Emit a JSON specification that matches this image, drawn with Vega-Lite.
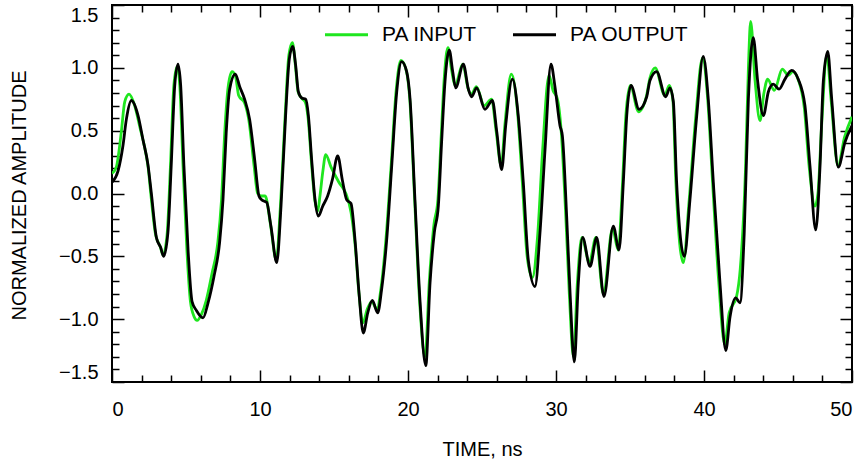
{
  "$schema": "https://vega.github.io/schema/vega-lite/v6.json",
  "width": 740,
  "height": 377,
  "autosize": {"type": "none"},
  "padding": {"left": 112, "top": 5, "right": 4, "bottom": 81},
  "config": {
    "font": "Liberation Sans",
    "view": {"stroke": "black", "strokeWidth": 2},
    "axis": {"grid": false, "domain": false, "labelFontSize": 20, "titleFontSize": 20, "titleFontWeight": "normal", "labelColor": "black", "titleColor": "black", "tickColor": "black", "tickWidth": 1.5, "labelFont": "Liberation Sans", "titleFont": "Liberation Sans"}
  },
  "datasets": {
    "sig": [
      {"series":"PA INPUT","t":0.00,"v":0.16},{"series":"PA INPUT","t":0.29,"v":0.21},{"series":"PA INPUT","t":0.63,"v":0.49},{"series":"PA INPUT","t":0.86,"v":0.73},{"series":"PA INPUT","t":1.15,"v":0.79},{"series":"PA INPUT","t":1.53,"v":0.70},{"series":"PA INPUT","t":1.90,"v":0.52},{"series":"PA INPUT","t":2.20,"v":0.37},{"series":"PA INPUT","t":2.45,"v":0.20},{"series":"PA INPUT","t":2.62,"v":0.00},{"series":"PA INPUT","t":2.95,"v":-0.33},{"series":"PA INPUT","t":3.25,"v":-0.42},{"series":"PA INPUT","t":3.45,"v":-0.49},{"series":"PA INPUT","t":3.72,"v":-0.33},{"series":"PA INPUT","t":3.95,"v":0.22},{"series":"PA INPUT","t":4.18,"v":0.86},{"series":"PA INPUT","t":4.40,"v":1.01},{"series":"PA INPUT","t":4.58,"v":0.86},{"series":"PA INPUT","t":4.80,"v":0.22},{"series":"PA INPUT","t":5.06,"v":-0.45},{"series":"PA INPUT","t":5.30,"v":-0.86},{"series":"PA INPUT","t":5.55,"v":-0.98},{"series":"PA INPUT","t":5.75,"v":-1.01},{"series":"PA INPUT","t":6.05,"v":-0.96},{"series":"PA INPUT","t":6.37,"v":-0.85},{"series":"PA INPUT","t":6.75,"v":-0.64},{"series":"PA INPUT","t":7.15,"v":-0.39},{"series":"PA INPUT","t":7.40,"v":-0.05},{"series":"PA INPUT","t":7.62,"v":0.49},{"series":"PA INPUT","t":7.85,"v":0.85},{"series":"PA INPUT","t":8.11,"v":0.97},{"series":"PA INPUT","t":8.35,"v":0.93},{"series":"PA INPUT","t":8.56,"v":0.78},{"series":"PA INPUT","t":8.96,"v":0.72},{"series":"PA INPUT","t":9.25,"v":0.58},{"series":"PA INPUT","t":9.60,"v":0.22},{"series":"PA INPUT","t":9.84,"v":0.00},{"series":"PA INPUT","t":10.10,"v":-0.02},{"series":"PA INPUT","t":10.35,"v":-0.02},{"series":"PA INPUT","t":10.70,"v":-0.24},{"series":"PA INPUT","t":11.10,"v":-0.53},{"series":"PA INPUT","t":11.38,"v":-0.10},{"series":"PA INPUT","t":11.70,"v":0.62},{"series":"PA INPUT","t":11.95,"v":1.10},{"series":"PA INPUT","t":12.19,"v":1.20},{"series":"PA INPUT","t":12.39,"v":1.02},{"series":"PA INPUT","t":12.57,"v":0.81},{"series":"PA INPUT","t":12.80,"v":0.76},{"series":"PA INPUT","t":13.05,"v":0.73},{"series":"PA INPUT","t":13.25,"v":0.60},{"series":"PA INPUT","t":13.47,"v":0.26},{"series":"PA INPUT","t":13.70,"v":-0.05},{"series":"PA INPUT","t":13.90,"v":-0.14},{"series":"PA INPUT","t":14.05,"v":-0.02},{"series":"PA INPUT","t":14.25,"v":0.18},{"series":"PA INPUT","t":14.44,"v":0.31},{"series":"PA INPUT","t":14.80,"v":0.21},{"series":"PA INPUT","t":15.33,"v":0.09},{"series":"PA INPUT","t":15.80,"v":0.00},{"series":"PA INPUT","t":16.15,"v":-0.15},{"series":"PA INPUT","t":16.42,"v":-0.40},{"series":"PA INPUT","t":16.69,"v":-0.80},{"series":"PA INPUT","t":16.95,"v":-1.03},{"series":"PA INPUT","t":17.25,"v":-0.92},{"series":"PA INPUT","t":17.55,"v":-0.86},{"series":"PA INPUT","t":17.90,"v":-0.92},{"series":"PA INPUT","t":18.18,"v":-0.75},{"series":"PA INPUT","t":18.52,"v":-0.35},{"series":"PA INPUT","t":18.86,"v":0.22},{"series":"PA INPUT","t":19.20,"v":0.82},{"series":"PA INPUT","t":19.52,"v":1.06},{"series":"PA INPUT","t":19.88,"v":0.98},{"series":"PA INPUT","t":20.12,"v":0.75},{"series":"PA INPUT","t":20.45,"v":-0.05},{"series":"PA INPUT","t":20.78,"v":-0.85},{"series":"PA INPUT","t":21.15,"v":-1.30},{"series":"PA INPUT","t":21.45,"v":-0.68},{"series":"PA INPUT","t":21.75,"v":-0.25},{"series":"PA INPUT","t":22.02,"v":-0.05},{"series":"PA INPUT","t":22.25,"v":0.47},{"series":"PA INPUT","t":22.45,"v":0.92},{"series":"PA INPUT","t":22.70,"v":1.16},{"series":"PA INPUT","t":22.95,"v":0.98},{"series":"PA INPUT","t":23.18,"v":0.86},{"series":"PA INPUT","t":23.70,"v":1.03},{"series":"PA INPUT","t":24.05,"v":0.84},{"series":"PA INPUT","t":24.28,"v":0.79},{"series":"PA INPUT","t":24.62,"v":0.85},{"series":"PA INPUT","t":25.15,"v":0.70},{"series":"PA INPUT","t":25.65,"v":0.75},{"series":"PA INPUT","t":25.95,"v":0.50},{"series":"PA INPUT","t":26.30,"v":0.22},{"series":"PA INPUT","t":26.55,"v":0.55},{"series":"PA INPUT","t":26.98,"v":0.95},{"series":"PA INPUT","t":27.40,"v":0.65},{"series":"PA INPUT","t":27.72,"v":0.10},{"series":"PA INPUT","t":28.05,"v":-0.50},{"series":"PA INPUT","t":28.40,"v":-0.67},{"series":"PA INPUT","t":28.75,"v":-0.35},{"series":"PA INPUT","t":29.10,"v":0.35},{"series":"PA INPUT","t":29.53,"v":0.94},{"series":"PA INPUT","t":29.80,"v":0.82},{"series":"PA INPUT","t":30.10,"v":0.75},{"series":"PA INPUT","t":30.35,"v":0.50},{"series":"PA INPUT","t":30.65,"v":-0.15},{"series":"PA INPUT","t":30.90,"v":-0.80},{"series":"PA INPUT","t":31.18,"v":-1.30},{"series":"PA INPUT","t":31.45,"v":-0.70},{"series":"PA INPUT","t":31.75,"v":-0.35},{"series":"PA INPUT","t":32.25,"v":-0.55},{"series":"PA INPUT","t":32.70,"v":-0.35},{"series":"PA INPUT","t":33.20,"v":-0.80},{"series":"PA INPUT","t":33.82,"v":-0.28},{"series":"PA INPUT","t":34.20,"v":-0.45},{"series":"PA INPUT","t":34.50,"v":0.09},{"series":"PA INPUT","t":34.72,"v":0.62},{"series":"PA INPUT","t":35.02,"v":0.86},{"series":"PA INPUT","t":35.58,"v":0.65},{"series":"PA INPUT","t":36.10,"v":0.77},{"series":"PA INPUT","t":36.35,"v":0.92},{"series":"PA INPUT","t":36.70,"v":1.00},{"series":"PA INPUT","t":37.35,"v":0.78},{"series":"PA INPUT","t":37.65,"v":0.86},{"series":"PA INPUT","t":37.90,"v":0.74},{"series":"PA INPUT","t":38.10,"v":0.09},{"series":"PA INPUT","t":38.60,"v":-0.55},{"series":"PA INPUT","t":39.00,"v":-0.05},{"series":"PA INPUT","t":39.45,"v":0.62},{"series":"PA INPUT","t":39.90,"v":1.08},{"series":"PA INPUT","t":40.25,"v":0.75},{"series":"PA INPUT","t":40.58,"v":0.09},{"series":"PA INPUT","t":41.00,"v":-0.71},{"series":"PA INPUT","t":41.40,"v":-1.20},{"series":"PA INPUT","t":41.70,"v":-0.95},{"series":"PA INPUT","t":42.20,"v":-0.82},{"series":"PA INPUT","t":42.45,"v":-0.60},{"series":"PA INPUT","t":42.80,"v":0.18},{"series":"PA INPUT","t":43.00,"v":1.00},{"series":"PA INPUT","t":43.15,"v":1.37},{"series":"PA INPUT","t":43.45,"v":0.90},{"series":"PA INPUT","t":43.78,"v":0.58},{"series":"PA INPUT","t":44.05,"v":0.80},{"series":"PA INPUT","t":44.30,"v":0.91},{"series":"PA INPUT","t":44.75,"v":0.82},{"series":"PA INPUT","t":45.29,"v":0.99},{"series":"PA INPUT","t":45.70,"v":0.94},{"series":"PA INPUT","t":46.00,"v":0.97},{"series":"PA INPUT","t":46.35,"v":0.91},{"series":"PA INPUT","t":46.78,"v":0.68},{"series":"PA INPUT","t":47.10,"v":0.22},{"series":"PA INPUT","t":47.50,"v":-0.10},{"series":"PA INPUT","t":47.70,"v":0.00},{"series":"PA INPUT","t":47.95,"v":0.55},{"series":"PA INPUT","t":48.30,"v":1.10},{"series":"PA INPUT","t":48.60,"v":0.73},{"series":"PA INPUT","t":49.05,"v":0.22},{"series":"PA INPUT","t":49.50,"v":0.45},{"series":"PA INPUT","t":50.00,"v":0.61},
      {"series":"PA OUTPUT","t":0.00,"v":0.09},{"series":"PA OUTPUT","t":0.41,"v":0.18},{"series":"PA OUTPUT","t":0.74,"v":0.38},{"series":"PA OUTPUT","t":0.97,"v":0.59},{"series":"PA OUTPUT","t":1.31,"v":0.74},{"series":"PA OUTPUT","t":1.76,"v":0.62},{"series":"PA OUTPUT","t":2.09,"v":0.43},{"series":"PA OUTPUT","t":2.43,"v":0.23},{"series":"PA OUTPUT","t":2.66,"v":0.00},{"series":"PA OUTPUT","t":3.00,"v":-0.35},{"series":"PA OUTPUT","t":3.29,"v":-0.43},{"series":"PA OUTPUT","t":3.49,"v":-0.50},{"series":"PA OUTPUT","t":3.78,"v":-0.31},{"series":"PA OUTPUT","t":4.00,"v":0.22},{"series":"PA OUTPUT","t":4.24,"v":0.86},{"series":"PA OUTPUT","t":4.46,"v":1.03},{"series":"PA OUTPUT","t":4.64,"v":0.86},{"series":"PA OUTPUT","t":4.86,"v":0.22},{"series":"PA OUTPUT","t":5.14,"v":-0.45},{"series":"PA OUTPUT","t":5.41,"v":-0.86},{"series":"PA OUTPUT","t":5.70,"v":-0.93},{"series":"PA OUTPUT","t":6.15,"v":-0.99},{"series":"PA OUTPUT","t":6.49,"v":-0.87},{"series":"PA OUTPUT","t":6.89,"v":-0.66},{"series":"PA OUTPUT","t":7.27,"v":-0.39},{"series":"PA OUTPUT","t":7.50,"v":-0.05},{"series":"PA OUTPUT","t":7.72,"v":0.49},{"series":"PA OUTPUT","t":7.95,"v":0.83},{"series":"PA OUTPUT","t":8.33,"v":0.95},{"series":"PA OUTPUT","t":8.63,"v":0.85},{"series":"PA OUTPUT","t":8.96,"v":0.75},{"series":"PA OUTPUT","t":9.30,"v":0.59},{"series":"PA OUTPUT","t":9.64,"v":0.27},{"series":"PA OUTPUT","t":9.93,"v":-0.02},{"series":"PA OUTPUT","t":10.11,"v":-0.05},{"series":"PA OUTPUT","t":10.45,"v":-0.07},{"series":"PA OUTPUT","t":10.74,"v":-0.26},{"series":"PA OUTPUT","t":11.13,"v":-0.55},{"series":"PA OUTPUT","t":11.42,"v":-0.10},{"series":"PA OUTPUT","t":11.73,"v":0.62},{"series":"PA OUTPUT","t":11.98,"v":1.07},{"series":"PA OUTPUT","t":12.21,"v":1.17},{"series":"PA OUTPUT","t":12.41,"v":1.02},{"series":"PA OUTPUT","t":12.59,"v":0.81},{"series":"PA OUTPUT","t":12.82,"v":0.76},{"series":"PA OUTPUT","t":13.09,"v":0.75},{"series":"PA OUTPUT","t":13.27,"v":0.62},{"series":"PA OUTPUT","t":13.49,"v":0.27},{"series":"PA OUTPUT","t":13.72,"v":-0.05},{"series":"PA OUTPUT","t":13.94,"v":-0.18},{"series":"PA OUTPUT","t":14.24,"v":-0.10},{"series":"PA OUTPUT","t":14.57,"v":-0.02},{"series":"PA OUTPUT","t":14.89,"v":0.11},{"series":"PA OUTPUT","t":15.25,"v":0.30},{"series":"PA OUTPUT","t":15.56,"v":0.11},{"series":"PA OUTPUT","t":15.86,"v":-0.05},{"series":"PA OUTPUT","t":16.15,"v":-0.08},{"series":"PA OUTPUT","t":16.42,"v":-0.37},{"series":"PA OUTPUT","t":16.69,"v":-0.79},{"series":"PA OUTPUT","t":16.98,"v":-1.11},{"series":"PA OUTPUT","t":17.28,"v":-0.95},{"series":"PA OUTPUT","t":17.59,"v":-0.85},{"series":"PA OUTPUT","t":17.95,"v":-0.95},{"series":"PA OUTPUT","t":18.21,"v":-0.77},{"series":"PA OUTPUT","t":18.56,"v":-0.37},{"series":"PA OUTPUT","t":18.90,"v":0.22},{"series":"PA OUTPUT","t":19.24,"v":0.81},{"series":"PA OUTPUT","t":19.57,"v":1.05},{"series":"PA OUTPUT","t":19.91,"v":0.97},{"series":"PA OUTPUT","t":20.14,"v":0.75},{"series":"PA OUTPUT","t":20.47,"v":-0.05},{"series":"PA OUTPUT","t":20.81,"v":-0.85},{"series":"PA OUTPUT","t":21.20,"v":-1.37},{"series":"PA OUTPUT","t":21.49,"v":-0.71},{"series":"PA OUTPUT","t":21.78,"v":-0.31},{"series":"PA OUTPUT","t":22.05,"v":-0.10},{"series":"PA OUTPUT","t":22.28,"v":0.43},{"series":"PA OUTPUT","t":22.50,"v":0.89},{"series":"PA OUTPUT","t":22.79,"v":1.14},{"series":"PA OUTPUT","t":23.02,"v":0.97},{"series":"PA OUTPUT","t":23.22,"v":0.84},{"series":"PA OUTPUT","t":23.74,"v":1.03},{"series":"PA OUTPUT","t":24.08,"v":0.83},{"series":"PA OUTPUT","t":24.30,"v":0.77},{"series":"PA OUTPUT","t":24.64,"v":0.84},{"series":"PA OUTPUT","t":25.20,"v":0.67},{"series":"PA OUTPUT","t":25.70,"v":0.74},{"series":"PA OUTPUT","t":26.00,"v":0.49},{"series":"PA OUTPUT","t":26.33,"v":0.19},{"series":"PA OUTPUT","t":26.60,"v":0.54},{"series":"PA OUTPUT","t":27.05,"v":0.91},{"series":"PA OUTPUT","t":27.45,"v":0.62},{"series":"PA OUTPUT","t":27.79,"v":0.09},{"series":"PA OUTPUT","t":28.13,"v":-0.53},{"series":"PA OUTPUT","t":28.58,"v":-0.74},{"series":"PA OUTPUT","t":28.92,"v":-0.31},{"series":"PA OUTPUT","t":29.26,"v":0.35},{"series":"PA OUTPUT","t":29.66,"v":1.03},{"series":"PA OUTPUT","t":29.93,"v":0.85},{"series":"PA OUTPUT","t":30.27,"v":0.54},{"series":"PA OUTPUT","t":30.43,"v":0.46},{"series":"PA OUTPUT","t":30.72,"v":-0.18},{"series":"PA OUTPUT","t":30.95,"v":-0.79},{"series":"PA OUTPUT","t":31.24,"v":-1.34},{"series":"PA OUTPUT","t":31.51,"v":-0.71},{"series":"PA OUTPUT","t":31.80,"v":-0.35},{"series":"PA OUTPUT","t":32.30,"v":-0.58},{"series":"PA OUTPUT","t":32.75,"v":-0.35},{"series":"PA OUTPUT","t":33.24,"v":-0.82},{"series":"PA OUTPUT","t":33.87,"v":-0.26},{"series":"PA OUTPUT","t":34.26,"v":-0.45},{"series":"PA OUTPUT","t":34.55,"v":0.09},{"series":"PA OUTPUT","t":34.78,"v":0.62},{"series":"PA OUTPUT","t":35.07,"v":0.86},{"series":"PA OUTPUT","t":35.61,"v":0.67},{"series":"PA OUTPUT","t":36.13,"v":0.77},{"series":"PA OUTPUT","t":36.35,"v":0.90},{"series":"PA OUTPUT","t":36.80,"v":0.97},{"series":"PA OUTPUT","t":37.41,"v":0.77},{"series":"PA OUTPUT","t":37.70,"v":0.84},{"series":"PA OUTPUT","t":37.93,"v":0.73},{"series":"PA OUTPUT","t":38.15,"v":0.09},{"series":"PA OUTPUT","t":38.67,"v":-0.50},{"series":"PA OUTPUT","t":39.05,"v":-0.05},{"series":"PA OUTPUT","t":39.51,"v":0.62},{"series":"PA OUTPUT","t":39.95,"v":1.09},{"series":"PA OUTPUT","t":40.29,"v":0.75},{"series":"PA OUTPUT","t":40.63,"v":0.09},{"series":"PA OUTPUT","t":41.08,"v":-0.71},{"series":"PA OUTPUT","t":41.47,"v":-1.25},{"series":"PA OUTPUT","t":41.76,"v":-0.98},{"series":"PA OUTPUT","t":42.14,"v":-0.83},{"series":"PA OUTPUT","t":42.43,"v":-0.87},{"series":"PA OUTPUT","t":42.72,"v":-0.31},{"series":"PA OUTPUT","t":43.00,"v":0.75},{"series":"PA OUTPUT","t":43.33,"v":1.24},{"series":"PA OUTPUT","t":43.63,"v":0.89},{"series":"PA OUTPUT","t":44.01,"v":0.62},{"series":"PA OUTPUT","t":44.35,"v":0.81},{"series":"PA OUTPUT","t":44.68,"v":0.87},{"series":"PA OUTPUT","t":45.07,"v":0.83},{"series":"PA OUTPUT","t":45.47,"v":0.91},{"series":"PA OUTPUT","t":45.92,"v":0.98},{"series":"PA OUTPUT","t":46.37,"v":0.91},{"series":"PA OUTPUT","t":46.82,"v":0.70},{"series":"PA OUTPUT","t":47.16,"v":0.22},{"series":"PA OUTPUT","t":47.55,"v":-0.29},{"series":"PA OUTPUT","t":47.84,"v":0.22},{"series":"PA OUTPUT","t":48.06,"v":0.89},{"series":"PA OUTPUT","t":48.36,"v":1.13},{"series":"PA OUTPUT","t":48.63,"v":0.75},{"series":"PA OUTPUT","t":49.07,"v":0.21},{"series":"PA OUTPUT","t":49.53,"v":0.41},{"series":"PA OUTPUT","t":50.00,"v":0.54}
    ]
  },
  "data": {"name": "sig"},
  "layer": [
    {
      "mark": {"type": "line", "interpolate": "monotone", "strokeWidth": 2.8, "clip": true},
      "encoding": {
        "x": {"field": "t", "type": "quantitative", "scale": {"domain": [0, 50], "nice": false, "zero": false},
          "axis": {"orient": "bottom", "values": [0, 10, 20, 30, 40, 50], "tickSize": -12, "labelPadding": 29, "title": "TIME, ns", "titleY": 57, "titleBaseline": "top"}},
        "y": {"field": "v", "type": "quantitative", "scale": {"domain": [-1.5, 1.5], "nice": false, "zero": false},
          "axis": {"orient": "left", "values": [-1.5, -1, -0.5, 0, 0.5, 1, 1.5], "format": ".1f", "labelExpr": "replace(datum.label, '-', '\u2212')", "tickSize": -12, "labelPadding": 26, "labelFlush": true, "title": "NORMALIZED AMPLITUDE", "titleX": -83, "titleY": 190}},
        "color": {"field": "series", "type": "nominal",
          "scale": {"domain": ["PA INPUT", "PA OUTPUT"], "range": ["#1fe61f", "#000000"]},
          "legend": {"orient": "none", "legendX": 211, "legendY": 6, "direction": "horizontal", "title": null, "symbolType": "stroke", "symbolSize": 1850, "symbolStrokeWidth": 3, "labelFontSize": 21, "labelFont": "Liberation Sans", "labelColor": "black", "labelOffset": 12, "columnPadding": 28}}
      }
    },
    {
      "mark": {"type": "point", "opacity": 0},
      "encoding": {
        "x": {"field": "t", "type": "quantitative", "scale": {"domain": [0, 50], "nice": false, "zero": false},
          "axis": {"orient": "bottom", "values": [2,4,6,8,12,14,16,18,22,24,26,28,32,34,36,38,42,44,46,48], "tickSize": -7, "labels": false, "title": null}},
        "y": {"field": "v", "type": "quantitative", "scale": {"domain": [-1.5, 1.5], "nice": false, "zero": false},
          "axis": {"orient": "left", "values": [-1.4,-1.3,-1.2,-1.1,-0.9,-0.8,-0.7,-0.6,-0.4,-0.3,-0.2,-0.1,0.1,0.2,0.3,0.4,0.6,0.7,0.8,0.9,1.1,1.2,1.3,1.4], "tickSize": -7, "labels": false, "title": null}}
      }
    },
    {
      "mark": {"type": "point", "opacity": 0},
      "encoding": {
        "x": {"field": "t", "type": "quantitative", "scale": {"domain": [0, 50], "nice": false, "zero": false},
          "axis": {"orient": "top", "values": [0, 10, 20, 30, 40, 50], "tickSize": -12, "labels": false, "title": null}},
        "y": {"field": "v", "type": "quantitative", "scale": {"domain": [-1.5, 1.5], "nice": false, "zero": false},
          "axis": {"orient": "right", "values": [-1.5, -1, -0.5, 0, 0.5, 1, 1.5], "tickSize": -12, "labels": false, "title": null}}
      }
    },
    {
      "mark": {"type": "point", "opacity": 0},
      "encoding": {
        "x": {"field": "t", "type": "quantitative", "scale": {"domain": [0, 50], "nice": false, "zero": false},
          "axis": {"orient": "top", "values": [2,4,6,8,12,14,16,18,22,24,26,28,32,34,36,38,42,44,46,48], "tickSize": -7, "labels": false, "title": null}},
        "y": {"field": "v", "type": "quantitative", "scale": {"domain": [-1.5, 1.5], "nice": false, "zero": false},
          "axis": {"orient": "right", "values": [-1.4,-1.3,-1.2,-1.1,-0.9,-0.8,-0.7,-0.6,-0.4,-0.3,-0.2,-0.1,0.1,0.2,0.3,0.4,0.6,0.7,0.8,0.9,1.1,1.2,1.3,1.4], "tickSize": -7, "labels": false, "title": null}}
      }
    }
  ],
  "resolve": {"axis": {"x": "independent", "y": "independent"}}
}
